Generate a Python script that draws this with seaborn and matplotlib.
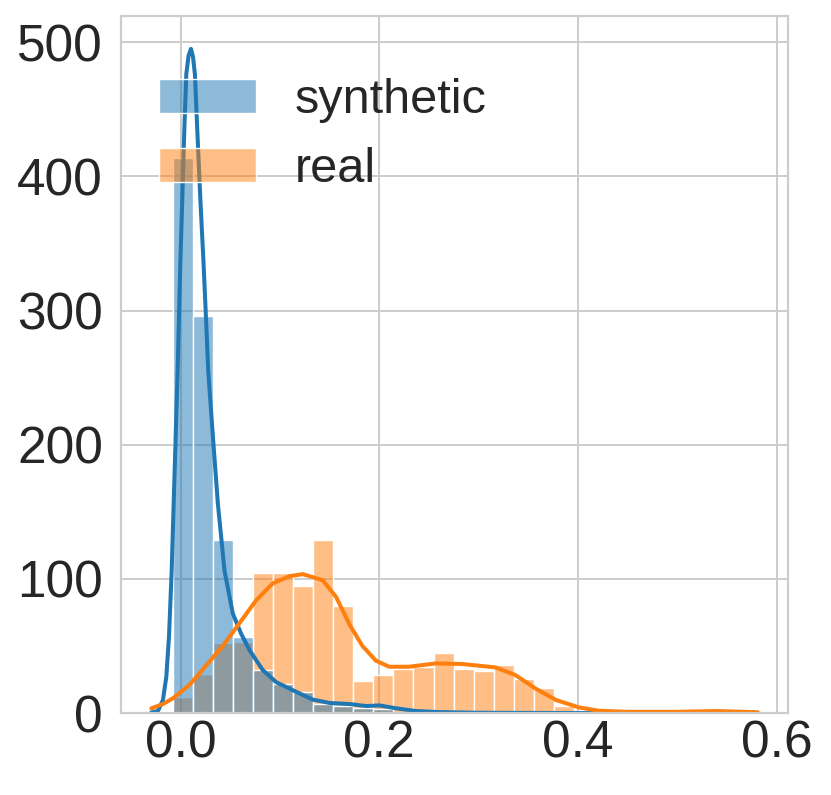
import pandas as pd
import seaborn as sns
import matplotlib.pyplot as plt

# histogram bins (shared by both series)
bin_start = -0.008
bin_width = 0.0202

# bar heights (counts) read per bin
synthetic_counts = [414, 296, 129, 57, 32, 22, 16, 7, 5, 4, 3]
real_counts = [12, 29, 52, 53, 104, 104, 95, 129, 80, 24,
               28, 33, 34, 45, 33, 31, 36, 25, 19, 5]

# kde curves (scaled to counts)
synthetic_kde_x = [-0.0295, -0.0228, -0.0178, -0.0144, -0.0117, -0.009, -0.007, -0.005,
                   -0.003, -0.002, -0.0003, 0.0017, 0.0037, 0.0057, 0.008, 0.0104,
                   0.0125, 0.0144, 0.0168, 0.0198, 0.0231, 0.0261, 0.0278, 0.0325,
                   0.0375, 0.0442, 0.0526, 0.061, 0.0693, 0.0827, 0.0962, 0.113,
                   0.133, 0.150, 0.170, 0.187, 0.200, 0.217, 0.237, 0.260,
                   0.300, 0.400, 0.500, 0.581]
synthetic_kde_y = [0.5, 1.5, 9.7, 27, 57, 106, 156, 206,
                   255, 285, 335, 384, 434, 476, 490, 495,
                   489, 476, 434, 384, 335, 285, 255, 206,
                   156, 106, 74, 59, 47, 32, 23, 17,
                   10, 7.5, 6.7, 5.2, 5.7, 3.5, 1.5, 0.7,
                   0.2, 0.0, 0.0, 0.0]

real_kde_x = [-0.0295, -0.0178, -0.0077, 0.009, 0.0258, 0.0425, 0.0593, 0.076,
              0.0928, 0.1095, 0.123, 0.143, 0.1565, 0.170, 0.183, 0.1967,
              0.21, 0.230, 0.257, 0.284, 0.317, 0.337, 0.357, 0.378,
              0.401, 0.421, 0.45, 0.50, 0.54, 0.581]
real_kde_y = [3.5, 6.7, 11, 21, 35.5, 50, 67, 84,
              96.6, 102, 103.5, 99, 86.6, 66, 50, 39,
              34.5, 34.5, 37, 36.5, 34, 28.3, 18.4, 9.7,
              4.2, 1.7, 0.9, 0.9, 1.5, 0.6]

labels = ["synthetic", "real"]
colors = ["#1f77b4", "#ff7f0e"]

n_bins = max(len(synthetic_counts), len(real_counts))
edges = [bin_start + bin_width * i for i in range(n_bins + 1)]
centers = [e + bin_width / 2 for e in edges[:-1]]

df = pd.concat([
    pd.DataFrame({"value": centers[:len(synthetic_counts)], "count": synthetic_counts, "source": "synthetic"}),
    pd.DataFrame({"value": centers[:len(real_counts)], "count": real_counts, "source": "real"}),
], ignore_index=True)

sns.set_theme(style="whitegrid")
plt.rcParams["font.family"] = ["Liberation Sans", "DejaVu Sans"]

fig = plt.figure(figsize=(8.31, 7.95), dpi=100)
ax = fig.add_axes([0.1456, 0.1031, 0.8027, 0.8772])

sns.histplot(data=df, x="value", weights="count", hue="source", hue_order=labels,
             palette=colors, bins=edges, alpha=0.5, ax=ax)
sns.lineplot(x=synthetic_kde_x, y=synthetic_kde_y, color=colors[0], linewidth=2.9, ax=ax)
sns.lineplot(x=real_kde_x, y=real_kde_y, color=colors[1], linewidth=2.9, ax=ax)

ax.set_xlabel("")
ax.set_ylabel("")
ax.set_xticks([0.0, 0.2, 0.4, 0.6])
ax.set_yticks([0, 100, 200, 300, 400, 500])
ax.tick_params(axis="both", labelsize=37, length=0)
ax.tick_params(axis="y", pad=13)
ax.tick_params(axis="x", pad=5)
ax.grid(True, color="0.8", linewidth=1.4)
for s in ax.spines.values():
    s.set_color("0.8")
    s.set_linewidth(1.6)

sns.move_legend(ax, "upper left", bbox_to_anchor=(-0.009, 0.974),
                title=None, frameon=False, fontsize=35)

plt.savefig("out.png", dpi=100)
plt.close()
